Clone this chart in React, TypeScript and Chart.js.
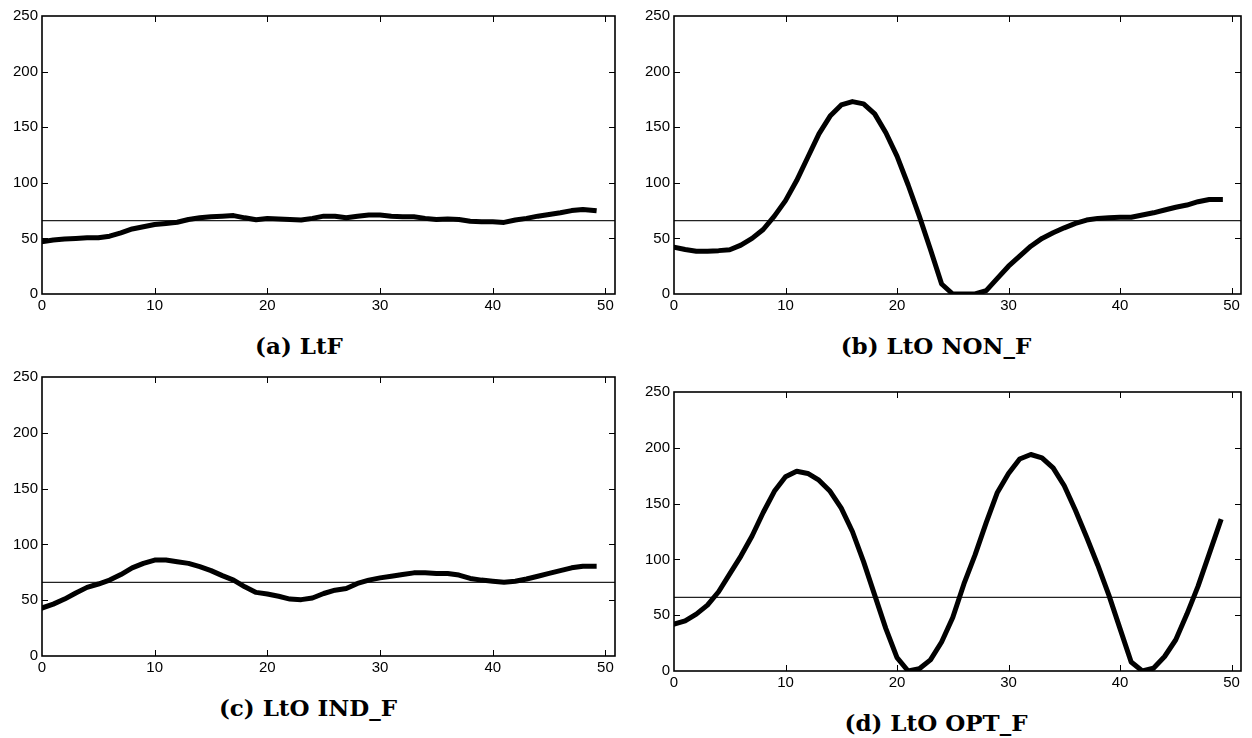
import React, { useEffect, useRef } from "react";
import { Chart, registerables } from "chart.js";

Chart.register(...registerables);

// ---- data ----
const ltF = [47, 48.5, 49.5, 50, 50.5, 50.5, 52, 55, 58.5, 60.5, 62.5, 63.5, 64.5, 67, 68.5, 69.5, 70, 70.5, 68.5, 66.8, 67.8, 67.5, 67, 66.5, 68, 70, 70, 68.5, 70, 71, 71, 70, 69.5, 69.5, 68, 67, 67.5, 67, 65.5, 65, 65, 64.4, 66.5, 68, 70, 71.5, 73, 75, 76, 75];
const ltoNonF = [42, 40, 38.5, 38.5, 39, 39.8, 44, 50, 58, 70, 84, 102, 123, 144, 160, 170, 173, 171, 162, 145, 124, 98, 70, 40, 9, 0, 0, 0, 3, 14, 25, 34, 43, 50, 55, 59.5, 63.5, 66.5, 68, 68.5, 69, 69, 71, 73, 75.5, 78, 80, 83, 85, 85];
const ltoIndF = [43, 46.5, 51, 56.5, 61.5, 64.5, 68, 73, 79, 83, 86, 86, 84.5, 83, 80, 76.5, 72, 68, 62, 57, 55.5, 53.5, 51, 50.5, 52, 56, 59, 60.5, 65, 68, 70, 71.5, 73, 74.5, 74.5, 74, 74, 72.5, 69.5, 68, 67, 66, 67, 69, 71.5, 74, 76.5, 79, 80.5, 80.5];
const ltoOptF = [42, 45, 51, 59, 71, 87, 103, 121, 142, 161, 174, 179, 177, 171, 161, 146, 125, 98, 68, 38, 12, 0, 2, 10, 26, 48, 78, 104, 133, 160, 177, 190, 194, 191, 182, 166, 144, 120, 95, 68, 38, 8, 0, 2.5, 13, 28, 51, 76, 105, 134];
const threshold = 66;
const captions = ["(a) LtF", "(b) LtO NON_F", "(c) LtO IND_F", "(d) LtO OPT_F"];
const xMin = 0;
const xMax = 50.85;
const xStep = 10;
const yMin = 0;
const yMax = 250;
const yStep = 50;

// ---- layout (plot rectangles in page pixels) ----
type Rect = { L: number; T: number; R: number; B: number };
const plotRects: Rect[] = [
  { L: 42, T: 14.5, R: 615, B: 293.5 },
  { L: 673.5, T: 14.5, R: 1241, B: 293.5 },
  { L: 42, T: 376, R: 615, B: 656 },
  { L: 673.5, T: 390.5, R: 1241, B: 670.5 },
];
const captionCenters = [
  { x: 299, y: 345 },
  { x: 936, y: 345 },
  { x: 308, y: 707 },
  { x: 936, y: 722 },
];

const PAD_L = 45;
const PAD_T = 12;
const PAD_R = 15;
const PAD_B = 28;
const TICK_LEN = 6;

const framePlugin = {
  id: "frameTicks",
  afterDatasetsDraw(chart: any) {
    const { ctx, chartArea } = chart;
    const xs = chart.scales.x;
    const ys = chart.scales.y;
    ctx.save();
    ctx.strokeStyle = "#000";
    ctx.lineWidth = 1;
    ctx.beginPath();
    for (const t of xs.ticks) {
      const px = Math.round(xs.getPixelForValue(t.value)) + 0.5;
      if (px <= chartArea.left + 1 || px >= chartArea.right - 1) continue;
      ctx.moveTo(px, chartArea.bottom);
      ctx.lineTo(px, chartArea.bottom - TICK_LEN);
      ctx.moveTo(px, chartArea.top);
      ctx.lineTo(px, chartArea.top + TICK_LEN);
    }
    for (const t of ys.ticks) {
      const py = Math.round(ys.getPixelForValue(t.value)) + 0.5;
      if (py <= chartArea.top + 1 || py >= chartArea.bottom - 1) continue;
      ctx.moveTo(chartArea.left, py);
      ctx.lineTo(chartArea.left + TICK_LEN, py);
      ctx.moveTo(chartArea.right, py);
      ctx.lineTo(chartArea.right - TICK_LEN, py);
    }
    ctx.stroke();
    ctx.lineWidth = 1.6;
    ctx.strokeRect(
      chartArea.left,
      chartArea.top,
      chartArea.right - chartArea.left,
      chartArea.bottom - chartArea.top
    );
    ctx.restore();
  },
};

const tickFont = { family: "'Liberation Sans', Arial, sans-serif", size: 15 };

function Panel({ values, rect }: { values: number[]; rect: Rect }) {
  const ref = useRef<HTMLCanvasElement | null>(null);
  const w = rect.R - rect.L + PAD_L + PAD_R;
  const h = rect.B - rect.T + PAD_T + PAD_B;
  useEffect(() => {
    if (!ref.current) return;
    const chart = new Chart(ref.current, {
      type: "line",
      data: {
        datasets: [
          {
            data: values.map((v, i) => ({ x: i, y: v })),
            borderColor: "#000",
            borderWidth: 5,
            pointRadius: 0,
            tension: 0,
            borderJoinStyle: "round",
            borderCapStyle: "square",
            fill: false,
          },
          {
            data: [
              { x: xMin, y: threshold },
              { x: xMax, y: threshold },
            ],
            borderColor: "#222",
            borderWidth: 1.3,
            pointRadius: 0,
            fill: false,
          },
        ],
      },
      options: {
        animation: false,
        responsive: false,
        events: [],
        layout: { padding: { left: 0, top: PAD_T, right: PAD_R, bottom: 0 } },
        plugins: { legend: { display: false }, tooltip: { enabled: false } },
        scales: {
          x: {
            type: "linear",
            min: xMin,
            max: xMax,
            grid: { display: false, drawTicks: false },
            border: { display: false },
            ticks: {
              stepSize: xStep,
              includeBounds: false,
              maxRotation: 0,
              autoSkip: false,
              padding: 3,
              color: "#000",
              font: tickFont,
            },
            afterFit: (s: any) => {
              s.height = PAD_B;
            },
          },
          y: {
            type: "linear",
            min: yMin,
            max: yMax,
            grid: { display: false, drawTicks: false },
            border: { display: false },
            ticks: {
              stepSize: yStep,
              padding: 4,
              color: "#000",
              font: tickFont,
            },
            afterFit: (s: any) => {
              s.width = PAD_L;
            },
          },
        },
      },
      plugins: [framePlugin],
    } as any);
    return () => chart.destroy();
  }, []);
  return (
    <canvas
      ref={ref}
      width={w}
      height={h}
      style={{
        position: "absolute",
        left: rect.L - PAD_L,
        top: rect.T - PAD_T,
        width: w,
        height: h,
      }}
    />
  );
}

const seriesList = [ltF, ltoNonF, ltoIndF, ltoOptF];

export default function App() {
  return (
    <div
      style={{
        position: "absolute",
        left: 0,
        top: 0,
        width: 1252,
        height: 738,
        background: "#fff",
        overflow: "hidden",
      }}
    >
      {seriesList.map((s, i) => (
        <Panel key={i} values={s} rect={plotRects[i]} />
      ))}
      {captions.map((c, i) => (
        <div
          key={"c" + i}
          style={{
            position: "absolute",
            left: captionCenters[i].x,
            top: captionCenters[i].y,
            transform: "translate(-50%, -50%)",
            whiteSpace: "nowrap",
            fontFamily: "'DejaVu Serif', serif",
            fontWeight: "bold",
            fontSize: 23,
            color: "#000",
            lineHeight: 1,
          }}
        >
          {c}
        </div>
      ))}
    </div>
  );
}
